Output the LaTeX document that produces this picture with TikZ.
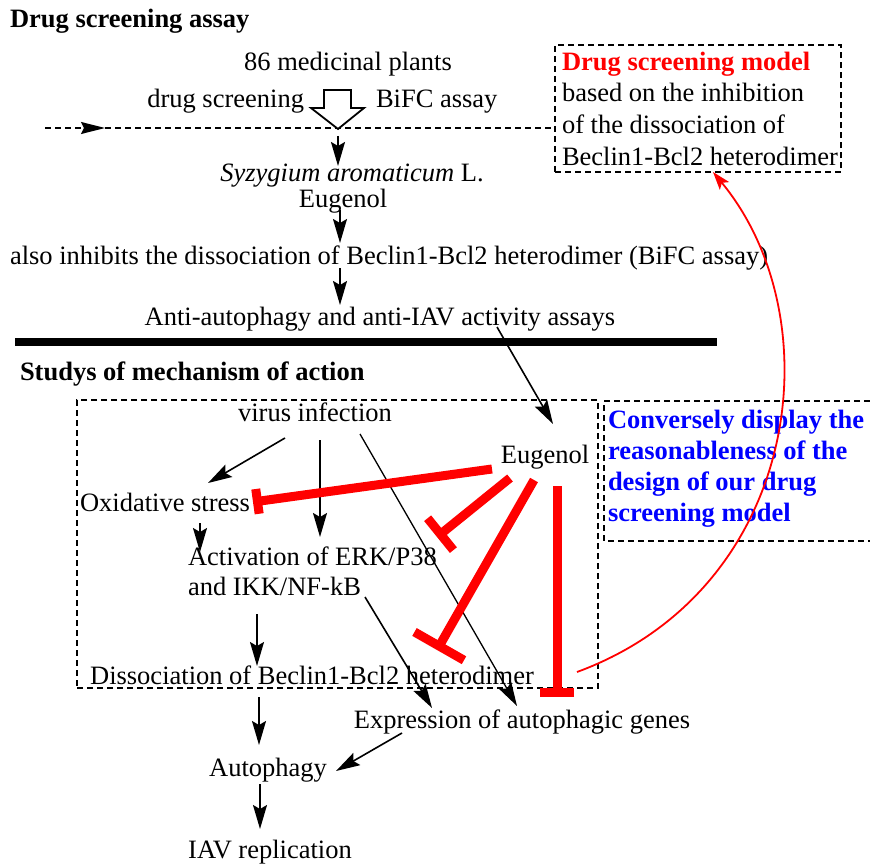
\documentclass[tikz,border=0pt]{standalone}
\usepackage{fontspec}
\setmainfont{Liberation Serif}
\usetikzlibrary{arrows.meta,calc}
\begin{document}
\begin{tikzpicture}[x=1pt,y=-1pt,
  font=\fontsize{26.5}{31.3}\selectfont,
  inner sep=0pt, outer sep=0pt,
  txt/.style={anchor=base},
  txtl/.style={anchor=base west},
  arr/.style={line width=1.6pt,-{Stealth[length=24pt,width=14pt,inset=4pt]}},
  inh/.style={red,line width=9pt,-{Bar[width=#1]}},
  dsh/.style={line width=1.5pt,dash pattern=on 6pt off 4pt}]
\useasboundingbox (0,0) rectangle (870,864);

% ---------- top part ----------
\node[txtl] (title1) at (10,28) {\textbf{Drug screening assay}};
\node[txt] (plants) at (348,71) {86 medicinal plants};
\node[anchor=base east] (drugscr) at (304,108) {drug screening};
\node[txtl] (bifc) at (376,108) {BiFC assay};

\coordinate (dl1) at (45,128);
\coordinate (dl2) at (105,128);
\coordinate (dl3) at (551,128);
\draw[dsh,-{Stealth[length=24pt,width=12pt,inset=3pt]}] (dl1) -- (dl2);
\draw[dsh] (dl2) -- (dl3);

\draw[line width=1.8pt,fill=white] (324,90) -- (351,90) -- (351,108) -- (364,108)
  -- (338,129) -- (311,108) -- (324,108) -- cycle;
\coordinate (htip) at (338,130);

\node[txt] (syz) at (352,182) {\textit{Syzygium aromaticum} L.};
\node[txt] (eug1) at (343,207) {Eugenol};
\node[txtl] (inhib) at (10,264) {also inhibits the dissociation of Beclin1-Bcl2 heterodimer (BiFC assay)};
\node[txt] (anti) at (380,325) {Anti-autophagy and anti-IAV activity assays};

\draw[arr] ($(htip)+(0,6)$) -- ($(syz.base)+(-14,-16)$);
\draw[arr] ($(eug1.base)+(-3,3)$) -- ($(inhib.base west)+(330,-21)$);
\draw[arr] ($(inhib.base west)+(330,4)$) -- ($(anti.base)+(-40,-20)$);

% model box
\node[draw,dsh,minimum width=286pt,minimum height=127pt,anchor=north west] (model) at (555,45) {};
\node[txtl,red] (m1) at (562,71) {\textbf{Drug screening model}};
\node[txtl] (m2) at (562,102) {based on the inhibition};
\node[txtl] (m3) at (562,134) {of the dissociation of};
\node[txtl] (m4) at (562,165) {Beclin1-Bcl2 heterodimer};

\draw[line width=8pt] (15,342) -- (717,342);

% ---------- bottom part ----------
\node[txtl] (title2) at (20,380) {\textbf{Studys of mechanism of action}};
\node[draw,dsh,minimum width=521pt,minimum height=288pt,anchor=north west] (mainbox) at (77,400) {};
\draw[dsh] (870,401) -| (604,541) -- (870,541);

\node[txtl,blue] (c1) at (608,428) {\textbf{Conversely display the}};
\node[txtl,blue] (c2) at (608,459) {\textbf{reasonableness of the}};
\node[txtl,blue] (c3) at (608,490) {\textbf{design of our drug}};
\node[txtl,blue] (c4) at (608,521) {\textbf{screening model}};

\node[txt] (virus) at (315,421) {virus infection};
\node[txt] (eug2) at (545,463) {Eugenol};
\node[txtl] (ox) at (80,511) {Oxidative stress};
\node[txtl] (act1) at (188,565) {Activation of ERK/P38};
\node[txtl] (act2) at (188,595) {and IKK/NF-kB};
\node[txt] (diss) at (312,684) {Dissociation of Beclin1-Bcl2 heterodimer};
\node[txt] (exp) at (522,728) {Expression of autophagic genes};
\node[txt] (auto) at (268,776) {Autophagy};
\node[txt] (iav) at (270,858) {IAV replication};

\draw[arr] ($(anti.base)+(117,2)$) -- ($(eug2.base)+(8,-39)$);
\draw[arr] ($(virus.base)+(-30,17)$) -- ($(ox.base west)+(128,-28)$);
\draw[arr] ($(virus.base)+(5,19)$) -- ($(act1.base west)+(132,-28)$);
\draw[line width=1.3pt,-{Stealth[length=24pt,width=14pt,inset=4pt]}] ($(virus.base)+(45,13)$) -- ($(exp.base)+(-5,-22)$);
\draw[arr] ($(ox.base west)+(120,12)$) -- ($(act1.base west)+(12,-13)$);
\draw[arr] ($(act2.base west)+(69,19)$) -- ($(diss.base)+(-55,-18)$);
\draw[arr] ($(act2.base west)+(177,2)$) -- ($(exp.base)+(-90,-20)$);
\draw[arr] ($(diss.base)+(-53,13)$) -- ($(auto.base)+(-9,-31)$);
\draw[arr] ($(exp.base)+(-120,5)$) -- ($(auto.base)+(68,-5)$);
\draw[arr] ($(auto.base)+(-8,8)$) -- ($(iav.base)+(-10,-29)$);

\draw[inh=25pt] ($(eug2.base)+(-53,6)$) -- ($(ox.base west)+(173,-9)$);
\draw[inh=41pt] ($(eug2.base)+(-35,15)$) -- ($(act1.base west)+(249,-28)$);
\draw[inh=57pt] ($(eug2.base)+(-11,17)$) -- ($(diss.base)+(125,-34)$);
\draw[inh=34pt] ($(eug2.base)+(12,23)$) -- ($(exp.base)+(35,-31)$);

\draw[red,line width=1.8pt,-{Stealth[length=18pt,width=12pt,inset=4pt]}]
  ($(diss.base)+(265,-12)$) .. controls (800,590) and (835,320) .. ($(model.south)+(15,0)$);
\end{tikzpicture}
\end{document}
